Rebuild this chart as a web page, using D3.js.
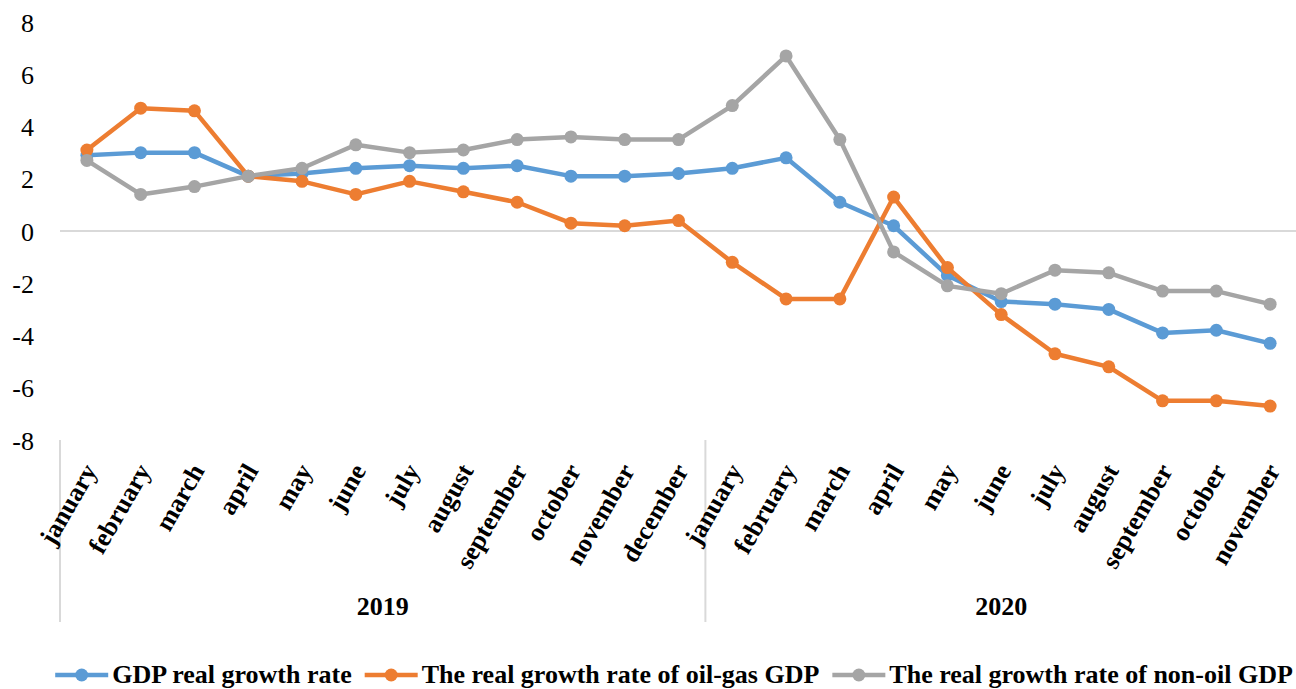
<!DOCTYPE html>
<html>
<head>
<meta charset="utf-8">
<script src="https://cdn.jsdelivr.net/npm/d3@7"></script>
<style>
    body { margin: 0; background: #fff; }
    text { font-family: "Liberation Serif", "Times New Roman", serif; fill: #000; }
</style>
</head>
<body>
<svg></svg>
<script>

// category labels (two levels: month / year)
const months = ['january', 'february', 'march', 'april', 'may', 'june', 'july', 'august', 'september', 'october', 'november', 'december',
    'january', 'february', 'march', 'april', 'may', 'june', 'july', 'august', 'september', 'october', 'november']
const years = [
    { label: '2019', start: 0, count: 12 },
    { label: '2020', start: 12, count: 11 }
]

// series values
const gdpReal = [2.9, 3.0, 3.0, 2.1, 2.2, 2.4, 2.5, 2.4, 2.5, 2.1, 2.1, 2.2,
    2.4, 2.8, 1.1, 0.2, -1.7, -2.7, -2.8, -3.0, -3.9, -3.8, -4.3]
const oilGas = [3.1, 4.7, 4.6, 2.1, 1.9, 1.4, 1.9, 1.5, 1.1, 0.3, 0.2, 0.4,
    -1.2, -2.6, -2.6, 1.3, -1.4, -3.2, -4.7, -5.2, -6.5, -6.5, -6.7]
const nonOil = [2.7, 1.4, 1.7, 2.1, 2.4, 3.3, 3.0, 3.1, 3.5, 3.6, 3.5, 3.5,
    4.8, 6.7, 3.5, -0.8, -2.1, -2.4, -1.5, -1.6, -2.3, -2.3, -2.8]

const seriesNames = ['GDP real growth rate', 'The real growth rate of oil-gas GDP', 'The real growth rate of non-oil GDP']
const yTicks = [-8, -6, -4, -2, 0, 2, 4, 6, 8]

const colors = ['#5b9bd5', '#ed7d31', '#a5a5a5']
const series = [gdpReal, oilGas, nonOil]

const width = 1296
const height = 689

//plot area edges, picked to line up with the picture
const plot = { left: 60, right: 1297, top: 22, bottom: 440 }

const svg = d3.select('svg')
    .attr('width', width)
    .attr('height', height)

const xScale = d3.scaleBand()
    .domain(d3.range(months.length))
    .range([plot.left, plot.right])
    .padding(0)

const xCenter = i => xScale(i) + xScale.bandwidth() / 2

const yScale = d3.scaleLinear()
    .domain([-8, 8])
    .range([plot.bottom, plot.top])

// y axis: labels only, plain hyphen for the minus like the original
const yAxis = d3.axisLeft(yScale)
    .tickValues(yTicks)
    .tickFormat(d => String(d))
    .tickSize(0)
    .tickPadding(0)

const yAxisG = svg.append('g')
    .attr('transform', 'translate(34,0)')
    .call(yAxis)
yAxisG.select('.domain').remove()
yAxisG.attr('font-family', null)
yAxisG.selectAll('text')
    .style('font-family', '"Liberation Serif", "Times New Roman", serif')
    .style('font-size', '26px')
    .attr('dy', '0.35em')

// horizontal axis line sits at zero
svg.append('line')
    .attr('x1', plot.left)
    .attr('x2', plot.right)
    .attr('y1', yScale(0))
    .attr('y2', yScale(0))
    .style('stroke', '#d9d9d9')
    .style('stroke-width', 2)

// group separators for the multi level category axis
svg.selectAll('.sep')
    .data(years)
    .enter()
    .append('line')
        .attr('class', 'sep')
        .attr('x1', d => xScale(d.start))
        .attr('x2', d => xScale(d.start))
        .attr('y1', plot.bottom)
        .attr('y2', 622)
        .style('stroke', '#d9d9d9')
        .style('stroke-width', 2)

// month labels, rotated
svg.selectAll('.month')
    .data(months)
    .enter()
    .append('text')
        .attr('class', 'month')
        .attr('transform', (d, i) => `translate(${xCenter(i) + 3}, 466) rotate(-60)`)
        .attr('text-anchor', 'end')
        .attr('dy', '0.35em')
        .style('font-size', '26px')
        .style('font-weight', 'bold')
        .text(d => d)

// year labels centred under their group
svg.selectAll('.year')
    .data(years)
    .enter()
    .append('text')
        .attr('class', 'year')
        .attr('x', d => (xScale(d.start) + xScale(d.start + d.count - 1) + xScale.bandwidth()) / 2)
        .attr('y', 615)
        .attr('text-anchor', 'middle')
        .style('font-size', '26px')
        .style('font-weight', 'bold')
        .text(d => d.label)

// the lines + markers
const line = d3.line()
    .x((d, i) => xCenter(i))
    .y(d => yScale(d))

series.forEach((values, k) => {
    const g = svg.append('g')
    g.append('path')
        .datum(values)
        .attr('d', line)
        .style('fill', 'none')
        .style('stroke', colors[k])
        .style('stroke-width', 4.5)
        .style('stroke-linejoin', 'round')
    g.selectAll('circle')
        .data(values)
        .enter()
        .append('circle')
            .attr('cx', (d, i) => xCenter(i))
            .attr('cy', d => yScale(d))
            .attr('r', 6.5)
            .style('fill', colors[k])
})

// legend, centred along the bottom
const legendG = svg.append('g')
const items = legendG.selectAll('g')
    .data(seriesNames)
    .enter()
    .append('g')

items.append('line')
    .attr('x1', 0)
    .attr('x2', 53)
    .attr('y1', 0)
    .attr('y2', 0)
    .style('stroke', (d, i) => colors[i])
    .style('stroke-width', 4.5)
items.append('circle')
    .attr('cx', 26.5)
    .attr('r', 6.5)
    .style('fill', (d, i) => colors[i])
items.append('text')
    .attr('x', 57)
    .attr('y', 8)
    .style('font-size', '26px')
    .style('font-weight', 'bold')
    .text(d => d)

const gap = 13
let offset = 0
items.each(function () {
    const w = 57 + this.querySelector('text').getComputedTextLength()
    d3.select(this).attr('transform', `translate(${offset},0)`)
    offset += w + gap
})
const legendWidth = offset - gap
legendG.attr('transform', `translate(${674 - legendWidth / 2}, 675)`)

</script>
</body>
</html>
